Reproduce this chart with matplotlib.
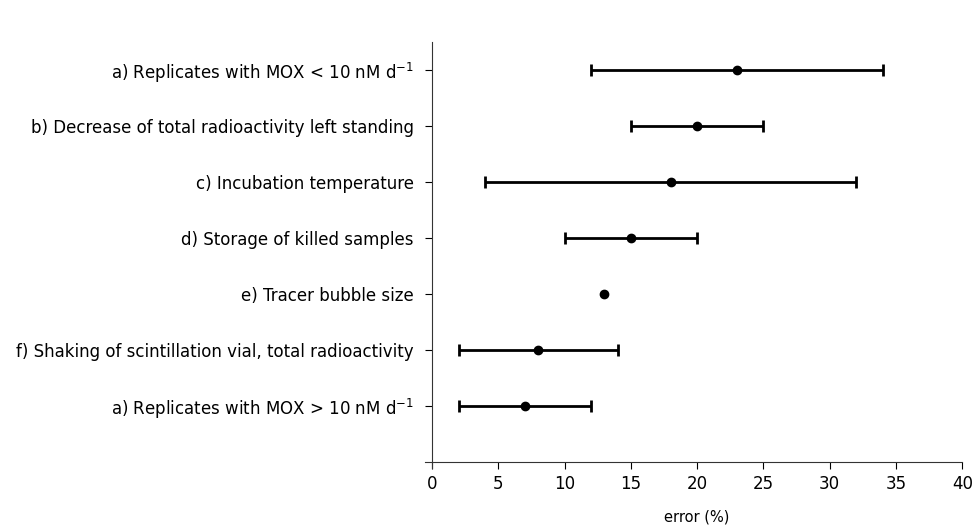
import matplotlib.pyplot as plt

plt.rcParams['font.family'] = ['DejaVu Sans']
plt.rcParams['mathtext.default'] = 'regular'

# categories, top to bottom
labels = [
    'a) Replicates with MOX < 10 nM d$^{-1}$',
    'b) Decrease of total radioactivity left standing',
    'c) Incubation temperature',
    'd) Storage of killed samples',
    'e) Tracer bubble size',
    'f) Shaking of scintillation vial, total radioactivity',
    'a) Replicates with MOX > 10 nM d$^{-1}$',
]
centre = [23, 20, 18, 15, 13, 8, 7]
low = [12, 15, 4, 10, 13, 2, 2]
high = [34, 25, 32, 20, 13, 14, 12]

n = len(labels)
ypos = list(range(n, 0, -1))
err_lo = [c - l for c, l in zip(centre, low)]
err_hi = [h - c for c, h in zip(centre, high)]

fig = plt.figure(figsize=(9.73, 5.30), dpi=100)
ax = fig.add_axes([0.444, 0.128, 0.545, 0.793])

for y, c, el, eh in zip(ypos, centre, err_lo, err_hi):
    if el == 0 and eh == 0:
        ax.plot(c, y, 'o', color='black', markersize=6)
    else:
        ax.errorbar(c, y, xerr=[[el], [eh]], fmt='o', color='black',
                    markersize=6, elinewidth=2, capsize=4, capthick=2)

ax.set_xlim(0, 40)
ax.set_ylim(0, 7.5)
ax.set_xticks(range(0, 41, 5))
ax.set_yticks(ypos)
ax.set_yticklabels(labels, fontsize=12)
ax.tick_params(axis='x', labelsize=12, direction='out', length=5, width=0.8, pad=4)
ax.tick_params(axis='y', direction='out', length=5, width=0.8, pad=8)
ax.set_xlabel('error (%)', fontsize=10.5, labelpad=12)

for s in ['top', 'right']:
    ax.spines[s].set_visible(False)
for s in ['left', 'bottom']:
    ax.spines[s].set_linewidth(0.8)
    ax.spines[s].set_color('#333333')
ax.spines['left'].set_bounds(-0.1, 7.5)
ax.spines['bottom'].set_bounds(-0.5, 40)

fig.savefig('out.png', dpi=100)
